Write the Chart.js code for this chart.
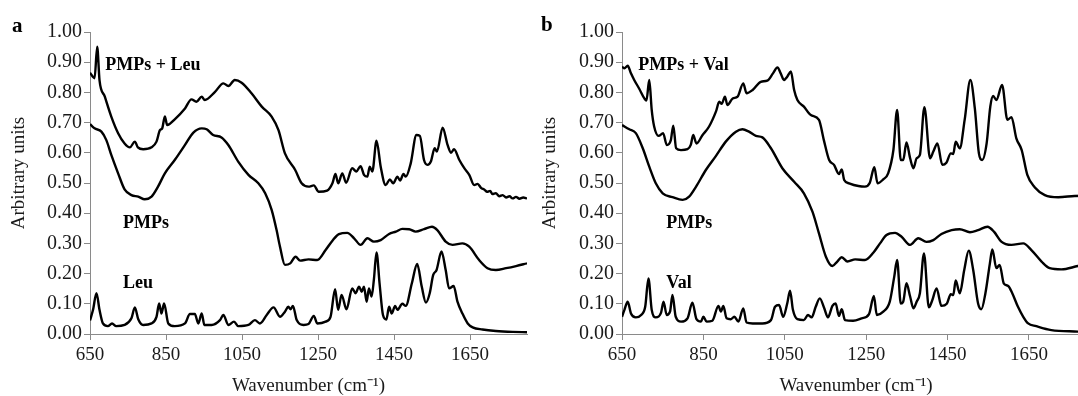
<!DOCTYPE html>
<html>
<head>
<meta charset="utf-8">
<script src="https://cdn.jsdelivr.net/npm/chart.js@4.4.0/dist/chart.umd.min.js"></script>
<style>
  html, body { margin: 0; padding: 0; background: #fff; overflow: hidden; }
  #wrap { position: relative; width: 1078px; height: 396px; overflow: hidden; }
  canvas { position: absolute; top: 0; }
  #chartA { left: 0; }
  #chartB { left: 535px; }
</style>
</head>
<body>
<div id="wrap">
  <canvas id="chartA" width="540" height="396"></canvas>
  <canvas id="chartB" width="570" height="396"></canvas>
</div>
<script>
// wavenumber ticks shown on both x axes
const xTicks = [650, 850, 1050, 1250, 1450, 1650];

// panel a: [wavenumber, arbitrary units]
const pmpsLeu = [
    [650,0.865],[662,0.847],[669,0.951],[675,0.841],[689,0.786],[706,0.72],[724,0.665],[741,0.631],
    [755,0.618],[768,0.637],[776,0.618],[790,0.612],[812,0.618],[825,0.637],[834,0.675],[840,0.681],
    [847,0.72],[853,0.692],[873,0.711],[900,0.747],[917,0.777],[930,0.769],[944,0.786],[952,0.775],
    [979,0.802],[1001,0.83],[1014,0.821],[1031,0.841],[1049,0.832],[1075,0.797],[1102,0.753],[1128,0.72],
    [1146,0.675],[1163,0.598],[1190,0.543],[1207,0.499],[1225,0.488],[1239,0.492],[1252,0.471],[1274,0.475],
    [1288,0.499],[1296,0.53],[1303,0.499],[1314,0.532],[1324,0.501],[1340,0.549],[1351,0.538],[1362,0.556],
    [1371,0.527],[1380,0.521],[1386,0.554],[1393,0.538],[1404,0.64],[1415,0.554],[1428,0.493],[1439,0.512],
    [1448,0.499],[1459,0.521],[1466,0.508],[1475,0.53],[1481,0.521],[1494,0.565],[1509,0.659],[1518,0.656],
    [1529,0.576],[1538,0.56],[1547,0.571],[1557,0.615],[1563,0.604],[1578,0.683],[1591,0.626],[1600,0.6],
    [1608,0.612],[1622,0.576],[1635,0.549],[1648,0.527],[1661,0.493],[1670,0.497],[1679,0.484],[1688,0.478],
    [1695,0.471],[1703,0.474],[1709,0.463],[1718,0.466],[1727,0.456],[1736,0.46],[1745,0.452],[1754,0.456],
    [1762,0.449],[1771,0.454],[1780,0.448],[1790,0.452],[1800,0.449]
];
const pmpsA = [
    [650,0.695],[662,0.681],[680,0.67],[693,0.642],[706,0.593],[724,0.532],[741,0.479],[759,0.46],
    [777,0.455],[794,0.446],[812,0.455],[829,0.488],[847,0.532],[873,0.576],[900,0.626],[922,0.667],
    [944,0.681],[957,0.678],[974,0.659],[996,0.651],[1014,0.626],[1040,0.571],[1067,0.527],[1093,0.499],
    [1111,0.466],[1128,0.411],[1141,0.344],[1150,0.289],[1163,0.229],[1177,0.234],[1191,0.256],[1203,0.243],
    [1225,0.247],[1248,0.245],[1270,0.278],[1288,0.309],[1305,0.331],[1327,0.335],[1345,0.317],[1362,0.295],
    [1380,0.317],[1397,0.306],[1415,0.311],[1437,0.331],[1455,0.339],[1472,0.348],[1490,0.347],[1507,0.339],
    [1529,0.347],[1550,0.355],[1564,0.344],[1586,0.306],[1604,0.295],[1630,0.3],[1648,0.289],[1674,0.245],
    [1696,0.218],[1718,0.212],[1745,0.218],[1771,0.225],[1800,0.234]
];
const leu = [
    [650,0.045],[658,0.08],[667,0.135],[675,0.08],[684,0.035],[697,0.026],[708,0.035],[719,0.026],
    [741,0.03],[759,0.052],[768,0.088],[777,0.049],[790,0.03],[812,0.035],[825,0.057],[832,0.101],
    [838,0.068],[845,0.101],[856,0.035],[873,0.026],[900,0.035],[913,0.066],[926,0.066],[935,0.035],
    [944,0.068],[951,0.03],[970,0.03],[992,0.046],[1001,0.063],[1014,0.03],[1029,0.041],[1040,0.026],
    [1067,0.03],[1084,0.046],[1097,0.035],[1115,0.063],[1133,0.088],[1150,0.057],[1163,0.074],[1172,0.09],
    [1178,0.082],[1184,0.093],[1194,0.046],[1212,0.03],[1225,0.033],[1239,0.06],[1248,0.035],[1270,0.041],
    [1283,0.057],[1295,0.148],[1303,0.08],[1312,0.129],[1325,0.082],[1340,0.151],[1349,0.135],[1358,0.157],
    [1365,0.14],[1371,0.157],[1378,0.107],[1384,0.151],[1391,0.124],[1397,0.179],[1404,0.27],[1412,0.168],
    [1421,0.063],[1430,0.048],[1437,0.09],[1444,0.068],[1453,0.093],[1459,0.08],[1472,0.1],[1481,0.093],
    [1497,0.168],[1511,0.232],[1523,0.157],[1534,0.104],[1544,0.135],[1553,0.195],[1562,0.212],[1575,0.273],
    [1586,0.212],[1595,0.151],[1607,0.159],[1617,0.107],[1630,0.068],[1644,0.035],[1657,0.022],[1683,0.015],
    [1718,0.01],[1762,0.007],[1800,0.006]
];

// panel b
const pmpsVal = [
    [650,0.885],[656,0.88],[664,0.888],[672,0.863],[680,0.841],[692,0.813],[705,0.78],[710,0.773],
    [717,0.841],[723,0.742],[729,0.687],[740,0.656],[751,0.665],[760,0.626],[770,0.642],[776,0.69],
    [783,0.615],[795,0.609],[811,0.612],[819,0.626],[825,0.659],[833,0.631],[848,0.659],[864,0.687],
    [881,0.737],[889,0.769],[895,0.762],[903,0.786],[909,0.758],[922,0.78],[934,0.786],[948,0.83],
    [956,0.797],[971,0.808],[991,0.835],[1007,0.839],[1021,0.863],[1032,0.883],[1040,0.863],[1048,0.841],
    [1056,0.852],[1065,0.869],[1073,0.808],[1081,0.775],[1097,0.753],[1114,0.725],[1134,0.709],[1146,0.642],
    [1159,0.576],[1171,0.56],[1183,0.53],[1190,0.545],[1196,0.51],[1208,0.499],[1231,0.49],[1247,0.488],
    [1259,0.501],[1270,0.552],[1278,0.499],[1292,0.512],[1304,0.532],[1317,0.61],[1326,0.742],[1335,0.576],
    [1341,0.576],[1349,0.634],[1358,0.582],[1366,0.549],[1374,0.582],[1382,0.593],[1393,0.751],[1407,0.582],
    [1415,0.604],[1425,0.631],[1437,0.56],[1447,0.567],[1458,0.598],[1464,0.596],[1470,0.637],[1480,0.615],
    [1492,0.709],[1506,0.841],[1517,0.747],[1527,0.598],[1535,0.576],[1546,0.631],[1555,0.753],[1562,0.788],
    [1570,0.775],[1584,0.825],[1597,0.709],[1607,0.718],[1619,0.648],[1632,0.61],[1646,0.527],[1664,0.486],
    [1689,0.46],[1722,0.453],[1762,0.457],[1800,0.458]
];
const pmpsB = [
    [650,0.692],[668,0.678],[684,0.665],[701,0.615],[717,0.554],[733,0.499],[750,0.466],[774,0.453],
    [799,0.444],[815,0.455],[832,0.488],[856,0.543],[881,0.59],[905,0.637],[930,0.67],[946,0.678],
    [962,0.67],[979,0.656],[995,0.651],[1016,0.615],[1044,0.549],[1073,0.504],[1097,0.466],[1118,0.405],
    [1134,0.333],[1151,0.256],[1167,0.225],[1179,0.24],[1190,0.254],[1204,0.24],[1223,0.247],[1247,0.245],
    [1268,0.27],[1284,0.3],[1300,0.328],[1321,0.335],[1337,0.322],[1358,0.295],[1378,0.317],[1398,0.305],
    [1415,0.311],[1435,0.331],[1460,0.344],[1480,0.347],[1505,0.337],[1525,0.344],[1548,0.355],[1564,0.339],
    [1582,0.306],[1607,0.295],[1636,0.3],[1656,0.278],[1681,0.24],[1701,0.218],[1730,0.214],[1770,0.225],
    [1800,0.232]
];
const val = [
    [650,0.057],[656,0.08],[664,0.107],[672,0.068],[684,0.055],[697,0.063],[707,0.09],[715,0.184],
    [723,0.08],[733,0.055],[746,0.071],[752,0.107],[760,0.063],[768,0.074],[774,0.129],[782,0.057],
    [795,0.041],[811,0.052],[823,0.104],[833,0.049],[844,0.041],[850,0.057],[858,0.041],[872,0.044],
    [887,0.093],[893,0.074],[899,0.093],[907,0.052],[917,0.049],[926,0.057],[936,0.041],[948,0.085],
    [956,0.038],[971,0.035],[995,0.035],[1016,0.046],[1026,0.09],[1036,0.096],[1046,0.057],[1056,0.101],
    [1063,0.143],[1070,0.08],[1081,0.049],[1097,0.046],[1107,0.063],[1116,0.055],[1126,0.09],[1136,0.118],
    [1147,0.085],[1156,0.055],[1167,0.093],[1175,0.101],[1183,0.06],[1190,0.082],[1198,0.046],[1218,0.044],
    [1239,0.052],[1257,0.066],[1269,0.126],[1276,0.063],[1292,0.074],[1308,0.107],[1319,0.19],[1326,0.245],
    [1335,0.101],[1341,0.107],[1349,0.168],[1358,0.124],[1366,0.085],[1374,0.107],[1382,0.135],[1392,0.267],
    [1404,0.088],[1412,0.11],[1423,0.151],[1435,0.093],[1448,0.1],[1458,0.132],[1464,0.129],[1470,0.177],
    [1480,0.135],[1491,0.212],[1502,0.276],[1513,0.212],[1525,0.101],[1533,0.082],[1543,0.135],[1554,0.234],
    [1560,0.28],[1570,0.218],[1578,0.229],[1588,0.168],[1599,0.159],[1609,0.135],[1623,0.09],[1636,0.057],
    [1648,0.035],[1668,0.026],[1705,0.013],[1770,0.008],[1800,0.006]
];

const serif = '"Liberation Serif", "Times New Roman", serif';
const axisGray = '#8a8a8a';
const textColor = '#1a1a1a';

// curve names, panel letter and the rotated y title
const curveLabels = {
    id: 'curveLabels',
    afterDatasetsDraw(chart, args, opts) {
        const ctx = chart.ctx;
        const xs = chart.scales.x, ys = chart.scales.y;
        ctx.save();
        ctx.fillStyle = '#000';
        ctx.textAlign = 'left';
        ctx.textBaseline = 'middle';
        ctx.font = 'bold 18px ' + serif;
        opts.items.forEach(it => {
            ctx.fillText(it.text, xs.getPixelForValue(it.x), ys.getPixelForValue(it.y));
        });
        ctx.font = 'bold 21px ' + serif;
        ctx.fillText(opts.letter, opts.letterX, opts.letterY);

        // y title sits a little above the middle of the axis
        ctx.fillStyle = textColor;
        ctx.font = '19px ' + serif;
        ctx.textAlign = 'center';
        ctx.translate(opts.titleX, 173);
        ctx.rotate(-Math.PI / 2);
        ctx.fillText('Arbitrary units', 0, 0);
        ctx.restore();
    }
};

function toPoints(arr) {
    return arr.map(p => ({ x: p[0], y: p[1] }));
}

function series(arr) {
    return {
        data: toPoints(arr),
        borderColor: '#000',
        borderWidth: 2.4,
        pointRadius: 0,
        fill: false,
        cubicInterpolationMode: 'monotone'
    };
}

function makeChart(id, sets, yWidth, padRight, labelOpts) {
    const ctx = document.getElementById(id).getContext('2d');
    return new Chart(ctx, {
        type: 'line',
        data: { datasets: sets.map(series) },
        options: {
            responsive: false,
            animation: false,
            layout: { padding: { top: 32, right: padRight, left: 0, bottom: 0 } },
            plugins: {
                legend: { display: false },
                tooltip: { enabled: false },
                curveLabels: labelOpts
            },
            scales: {
                x: {
                    type: 'linear',
                    min: 650,
                    max: 1800,
                    afterBuildTicks: s => { s.ticks = xTicks.map(v => ({ value: v })); },
                    afterFit: s => { s.height = 62; },
                    grid: { display: true, drawOnChartArea: false, drawTicks: true, tickLength: 6, color: axisGray },
                    border: { display: true, color: axisGray, width: 1 },
                    ticks: {
                        callback: v => String(v),
                        font: { family: serif, size: 19 },
                        color: textColor,
                        padding: 4,
                        maxRotation: 0
                    },
                    title: {
                        display: true,
                        text: 'Wavenumber (cm\u207B\u00B9)',
                        font: { family: serif, size: 19, lineHeight: 1 },
                        color: textColor,
                        padding: { top: 0, bottom: 0 }
                    }
                },
                y: {
                    min: 0,
                    max: 1,
                    afterFit: s => { s.width = yWidth; },
                    grid: { display: true, drawOnChartArea: false, drawTicks: true, tickLength: 6, color: axisGray },
                    border: { display: true, color: axisGray, width: 1 },
                    ticks: {
                        stepSize: 0.1,
                        callback: v => v.toFixed(2),
                        font: { family: serif, size: 20 },
                        color: textColor,
                        padding: 2
                    }
                }
            }
        },
        plugins: [curveLabels]
    });
}

makeChart('chartA', [pmpsLeu, pmpsA, leu], 90, 13, {
    letter: 'a', letterX: 12, letterY: 27, titleX: 19,
    items: [
        { text: 'PMPs + Leu', x: 690, y: 0.89 },
        { text: 'PMPs', x: 737, y: 0.368 },
        { text: 'Leu', x: 737, y: 0.169 }
    ]
});

makeChart('chartB', [pmpsVal, pmpsB, val], 87, 15, {
    letter: 'b', letterX: 6, letterY: 26, titleX: 15,
    items: [
        { text: 'PMPs + Val', x: 690, y: 0.89 },
        { text: 'PMPs', x: 759, y: 0.368 },
        { text: 'Val', x: 759, y: 0.169 }
    ]
});
</script>
</body>
</html>
